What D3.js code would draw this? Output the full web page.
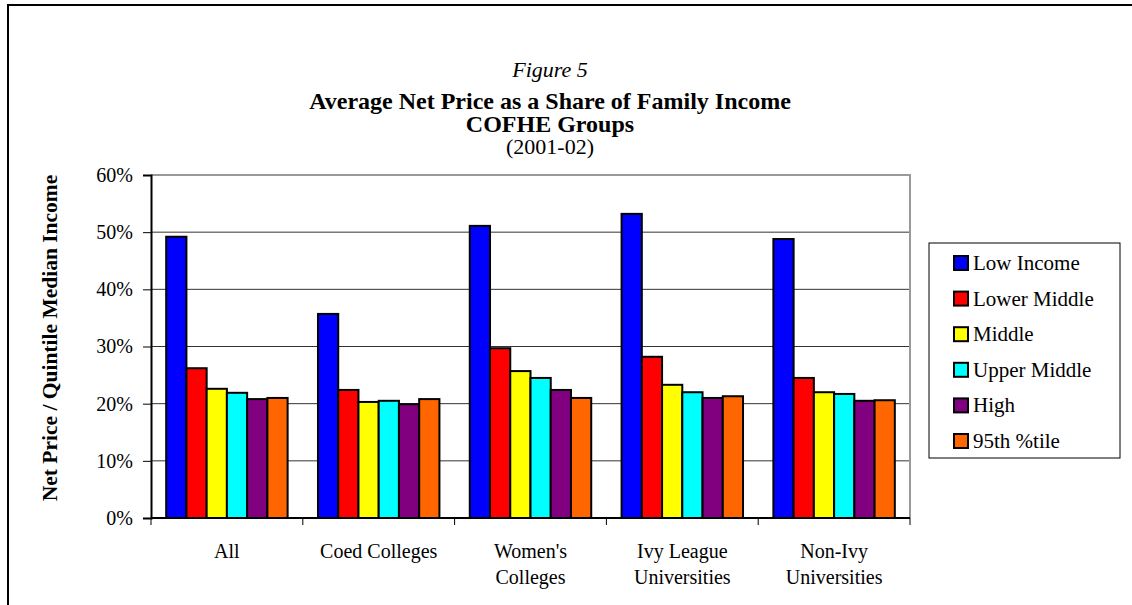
<!DOCTYPE html>
<html>
<head>
<meta charset="utf-8">
<script src="https://cdn.jsdelivr.net/npm/d3@7"></script>
<style>
  body { margin: 0; background: #fff; }
  svg text { font-family: "Liberation Serif", "Times New Roman", serif; }
</style>
</head>
<body>
<div id="chart"></div>
<script>
var categories = ["All", "Coed Colleges", "Women's Colleges", "Ivy League Universities", "Non-Ivy Universities"];
var categoryLines = [["All"], ["Coed Colleges"], ["Women's", "Colleges"], ["Ivy League", "Universities"], ["Non-Ivy", "Universities"]];
var seriesNames = ["Low Income", "Lower Middle", "Middle", "Upper Middle", "High", "95th %tile"];
var seriesColors = ["#0000ff", "#ff0000", "#ffff00", "#00ffff", "#800080", "#ff6600"];
// one row per category, one value per income group
var values = [
  [0.492, 0.262, 0.226, 0.219, 0.208, 0.210],
  [0.357, 0.224, 0.203, 0.205, 0.199, 0.208],
  [0.511, 0.297, 0.257, 0.245, 0.224, 0.210],
  [0.532, 0.282, 0.233, 0.220, 0.210, 0.213],
  [0.488, 0.245, 0.220, 0.217, 0.205, 0.206]
];
var yTicks = [0, 0.1, 0.2, 0.3, 0.4, 0.5, 0.6];
var titleLines = ["Figure 5", "Average Net Price as a Share of Family Income", "COFHE Groups", "(2001-02)"];

var width = 1132,
    height = 605,
    plotLeft = 151, plotRight = 910, plotTop = 175, plotBottom = 518;
var serif = "'Liberation Serif', 'Times New Roman', serif";

var svg = d3.select("#chart")
  .append("svg")
  .attr("width", width)
  .attr("height", height)
  .style("font-family", serif);

// outer frame
svg.append("rect")
  .attr("x", 8).attr("y", 5)
  .attr("width", width).attr("height", height)
  .style("fill", "none").style("stroke", "#000").style("stroke-width", 2);

var x0 = d3.scaleBand()
  .domain(categories)
  .range([plotLeft, plotRight])
  .paddingInner(0.2)
  .paddingOuter(0.1);

var x1 = d3.scaleBand()
  .domain(seriesNames)
  .range([0, x0.bandwidth()]);

var y = d3.scaleLinear()
  .domain([0, 0.6])
  .range([plotBottom, plotTop]);

// gridlines
svg.append("g")
  .selectAll("line")
  .data(yTicks.slice(1, -1))
  .enter().append("line")
  .attr("x1", plotLeft).attr("x2", plotRight)
  .attr("y1", function(d) { return y(d); })
  .attr("y2", function(d) { return y(d); })
  .style("stroke", "#333").style("stroke-width", 1);

// plot area border (top, right)
svg.append("path")
  .attr("d", "M" + plotLeft + "," + plotTop + "H" + plotRight + "V" + plotBottom)
  .style("fill", "none").style("stroke", "#999").style("stroke-width", 2);

// bars
var groups = svg.append("g")
  .selectAll("g")
  .data(values)
  .enter().append("g")
  .attr("transform", function(d, i) { return "translate(" + x0(categories[i]) + ",0)"; });

groups.selectAll("rect")
  .data(function(d) { return d; })
  .enter().append("rect")
  .attr("x", function(d, j) { return x1(seriesNames[j]); })
  .attr("y", function(d) { return y(d); })
  .attr("width", x1.bandwidth())
  .attr("height", function(d) { return plotBottom - y(d); })
  .style("fill", function(d, j) { return seriesColors[j]; })
  .style("stroke", "#000")
  .style("stroke-width", 2);

// y axis
var yAxis = svg.append("g")
  .attr("transform", "translate(" + plotLeft + ",0)")
  .call(d3.axisLeft(y).tickValues(yTicks).tickFormat(d3.format(".0%")).tickSize(8).tickPadding(10));
yAxis.select(".domain").style("stroke", "#000").style("stroke-width", 2);
yAxis.selectAll(".tick line").style("stroke", "#000");
yAxis.selectAll("text").style("font-size", "20px").style("fill", "#000")
  .style("font-family", serif);

// x axis with ticks on category boundaries
var xAxis = svg.append("g")
  .attr("transform", "translate(0," + plotBottom + ")");
xAxis.append("line")
  .attr("x1", plotLeft).attr("x2", plotRight)
  .style("stroke", "#000").style("stroke-width", 2);
var step = x0.step();
xAxis.selectAll(".bound")
  .data(d3.range(categories.length + 1))
  .enter().append("line")
  .attr("class", "bound")
  .attr("x1", function(i) { return plotLeft + i * step; })
  .attr("x2", function(i) { return plotLeft + i * step; })
  .attr("y1", 0).attr("y2", 7)
  .style("stroke", "#000");

var catLabels = xAxis.selectAll(".cat")
  .data(categoryLines)
  .enter().append("text")
  .attr("class", "cat")
  .attr("x", function(d, i) { return x0(categories[i]) + x0.bandwidth() / 2; })
  .attr("y", 40)
  .attr("text-anchor", "middle")
  .style("font-size", "20px");
catLabels.selectAll("tspan")
  .data(function(d) { return d; })
  .enter().append("tspan")
  .attr("x", function() { return d3.select(this.parentNode).attr("x"); })
  .attr("dy", function(d, k) { return k === 0 ? 0 : 26; })
  .text(function(d) { return d; });

// y axis title
svg.append("text")
  .attr("transform", "translate(57,338) rotate(-90)")
  .attr("text-anchor", "middle")
  .style("font-size", "21.5px")
  .style("font-weight", "bold")
  .text("Net Price / Quintile Median Income");

// chart title
var titleY = [77, 109, 132, 154];
svg.append("g")
  .selectAll("text")
  .data(titleLines)
  .enter().append("text")
  .attr("x", 550)
  .attr("y", function(d, i) { return titleY[i]; })
  .attr("text-anchor", "middle")
  .style("font-size", function(d, i) { return i === 1 || i === 2 ? "24px" : "22px"; })
  .style("font-weight", function(d, i) { return i === 1 || i === 2 ? "bold" : "normal"; })
  .style("font-style", function(d, i) { return i === 0 ? "italic" : "normal"; })
  .text(function(d) { return d; });

// legend
var legend = svg.append("g").attr("transform", "translate(929,243)");
legend.append("rect")
  .attr("width", 191).attr("height", 215)
  .style("fill", "#fff").style("stroke", "#000").style("stroke-width", 1);
var item = legend.selectAll(".item")
  .data(seriesNames)
  .enter().append("g")
  .attr("class", "item")
  .attr("transform", function(d, i) { return "translate(0," + (20 + i * 35.6) + ")"; });
item.append("rect")
  .attr("x", 25).attr("y", -7)
  .attr("width", 14).attr("height", 14)
  .style("fill", function(d, i) { return seriesColors[i]; })
  .style("stroke", "#000").style("stroke-width", 2);
item.append("text")
  .attr("x", 44).attr("y", 7)
  .style("font-size", "21px")
  .text(function(d) { return d; });
</script>
</body>
</html>
